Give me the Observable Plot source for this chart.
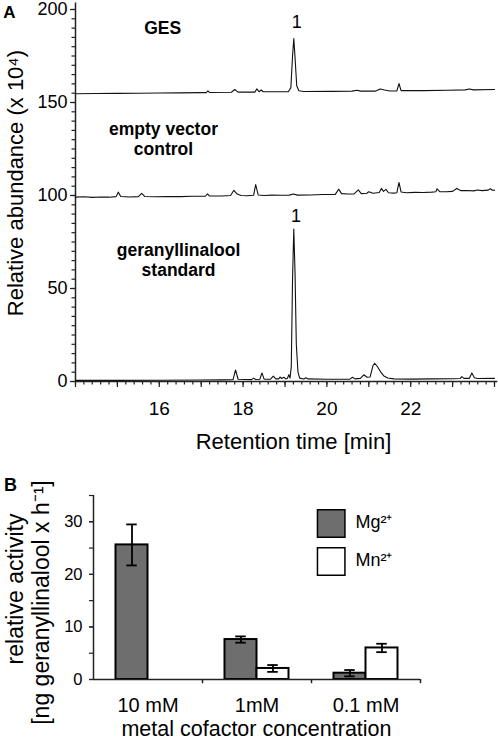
<!DOCTYPE html>
<html><head><meta charset="utf-8">
<script src="https://cdn.jsdelivr.net/npm/d3@7"></script>
<script src="https://cdn.jsdelivr.net/npm/@observablehq/plot@0.6"></script>
<style>
body{margin:0;background:#fff}
#chart{width:498px;height:742px;position:relative;background:#fff}
#chart svg{display:block}
</style>
</head><body><div id="chart"></div>
<script>
// ---------- Panel A data: chromatogram traces [retention time (min), abundance (x10^4)] ----------
const gesTrace = [
  [14.0,154.7],[14.5,154.8],[15.0,154.9],[15.5,155.0],[16.0,155.1],[16.5,155.2],[17.0,155.3],[17.12,155.3],
  [17.16,156.3],[17.2,155.4],[17.72,155.5],[17.8,157.0],[17.88,155.6],[18.28,155.6],[18.33,157.3],[18.38,155.8],
  [18.43,156.7],[18.48,155.8],[19.08,155.8],[19.14,158],[19.18,175],[19.21,184.4],[19.24,174],[19.28,159],
  [19.33,156.3],[19.45,155.9],[20.1,156.0],[20.6,156.1],[20.72,156.6],[20.8,156.1],[21.15,156.1],[21.27,157.3],
  [21.38,156.7],[21.5,156.2],[21.67,156.2],[21.72,160.2],[21.77,156.4],[22.3,156.4],[22.9,156.6],[23.3,156.8],
  [23.4,157.3],[23.5,156.8],[24.0,157.0]
];
const emptyVectorTrace = [
  [14.0,99.1],[14.2,99.3],[14.4,99.0],[14.6,99.2],[14.8,99.1],[14.97,99.4],[15.02,101.8],[15.08,99.5],[15.3,99.2],
  [15.5,99.4],[15.58,101.2],[15.65,99.5],[15.9,99.3],[16.2,99.5],[16.5,99.4],[16.8,99.6],[17.1,99.6],[17.15,100.9],
  [17.2,99.7],[17.5,99.7],[17.7,100.0],[17.78,102.8],[17.86,100.8],[17.95,100.0],[18.1,99.9],[18.25,100.1],
  [18.3,105.9],[18.36,100.3],[18.5,100.0],[18.7,100.2],[18.9,100.1],[19.1,100.2],[19.2,100.8],[19.3,100.2],
  [19.6,100.3],[19.9,100.5],[20.2,100.6],[20.28,103.4],[20.35,101.0],[20.5,100.8],[20.65,100.9],[20.75,103.0],
  [20.82,101.0],[20.95,101.2],[21.0,102.0],[21.1,101.2],[21.25,101.6],[21.3,103.8],[21.35,102.2],[21.41,103.3],
  [21.47,101.5],[21.6,101.3],[21.67,101.5],[21.72,107.0],[21.77,101.9],[21.9,101.5],[22.1,101.7],[22.3,101.6],
  [22.5,101.8],[22.6,102.0],[22.63,103.6],[22.7,102.0],[22.85,102.0],[23.0,102.2],[23.1,103.8],[23.2,102.6],
  [23.35,102.7],[23.5,102.5],[23.6,103.0],[23.7,102.6],[23.85,102.9],[23.9,103.6],[23.95,102.8],[24.0,102.9]
];
const standardTrace = [
  [14.0,0.6],[15.0,0.6],[16.0,0.7],[17.0,0.8],[17.5,0.9],[17.76,1.0],[17.82,6.2],[17.88,1.2],[18.2,1.0],
  [18.25,1.8],[18.3,1.1],[18.4,1.2],[18.45,4.6],[18.5,1.3],[18.65,1.2],[18.72,2.9],[18.78,1.4],[18.85,1.4],
  [18.88,2.4],[18.92,1.6],[18.97,2.3],[19.02,1.4],[19.06,1.8],[19.09,3.6],[19.12,1.8],[19.15,8],[19.18,55],
  [19.21,82],[19.24,58],[19.27,20],[19.31,5],[19.35,1.8],[19.45,1.3],[19.5,2.0],[19.55,1.4],[20.0,1.2],
  [20.55,1.3],[20.61,2.3],[20.67,1.4],[20.8,1.7],[20.88,3.6],[20.96,2.3],[21.03,2.4],[21.1,8.5],[21.14,9.8],
  [21.2,8.2],[21.28,5.2],[21.36,3.0],[21.45,1.9],[21.6,1.4],[22.0,1.3],[22.5,1.4],[23.0,1.5],[23.18,1.6],
  [23.22,2.6],[23.27,1.7],[23.4,1.7],[23.46,4.6],[23.52,2.0],[23.6,1.6],[24.0,1.7]
];
const sampleNames = ["GES", "empty vector\ncontrol", "geranyllinalool\nstandard"];
const peakName = "1";
const yTicksA = [0, 50, 100, 150, 200];
const xTicksA = [16, 18, 20, 22];
const yLabelA = "Relative abundance (x 10\u2074)";
const xLabelA = "Retention time [min]";

// ---------- Panel B data ----------
const concentrations = ["10 mM", "1mM", "0.1 mM"];
const mgMean = [25.6, 7.6, 1.2];
const mgErr  = [3.9, 0.6, 0.6];
const mnMean = [null, 2.1, 6.0];
const mnErr  = [null, 0.65, 0.8];
const legendLabels = ["Mg\u00B2\u207A", "Mn\u00B2\u207A"];
const yTicksB = [0, 10, 20, 30];
const yLabelB1 = "relative activity";
const yLabelB2 = "[ng geranyllinalool x h\u207B\u00B9]";
const xLabelB = "metal cofactor concentration";

const FONT = "'Liberation Sans', Arial, Helvetica, sans-serif";
const AX = "#222";

// ---------- Panel A ----------
const trace = (data) => Plot.line(data, {x: d => d[0], y: d => d[1], stroke: "#111", strokeWidth: 1.1});
const sampleLabels = [
  {label: sampleNames[0], x: 16.08, y: 190.3},
  {label: sampleNames[1], x: 16.1, y: 130.6},
  {label: sampleNames[2], x: 16.46, y: 65.6}
];
const peakLabels = [{x: 19.28, y: 193}, {x: 19.26, y: 88.7}];

const plotA = Plot.plot({
  width: 498, height: 455,
  marginLeft: 75, marginRight: 4, marginTop: 9, marginBottom: 74,
  style: {fontFamily: FONT, background: "white", color: "#000", overflow: "visible"},
  x: {domain: [14, 24], label: null},
  y: {domain: [0, 200], label: null},
  marks: [
    Plot.axisY({ticks: d3.range(0, 201, 5), tickSize: 3.5, tickFormat: () => "", label: null, stroke: AX, strokeWidth: 1.2}),
    Plot.axisY({ticks: yTicksA, tickSize: 5, tickPadding: 3, fontSize: 18, label: null, stroke: AX, strokeWidth: 1.2}),
    Plot.axisX({ticks: d3.range(14, 24.001, 0.2), tickSize: 3.5, tickFormat: () => "", label: null, stroke: AX, strokeWidth: 1.2}),
    Plot.axisX({ticks: d3.range(14, 24.5, 1), tickSize: 6, tickFormat: () => "", label: null, stroke: AX, strokeWidth: 1.2}),
    Plot.axisX({ticks: xTicksA, tickSize: 0, tickPadding: 20, fontSize: 19, label: null}),
    Plot.ruleX([14], {y1: 0, y2: 203.5, stroke: AX, strokeWidth: 1.5}),
    Plot.ruleY([0], {x1: 14, x2: 24.08, stroke: AX, strokeWidth: 1.5}),
    trace(gesTrace),
    trace(emptyVectorTrace),
    trace(standardTrace),
    Plot.text(sampleLabels, {x: "x", y: "y", text: "label", fontWeight: "bold", fontSize: 17.5, lineHeight: 1.15}),
    Plot.text(peakLabels, {x: "x", y: "y", text: () => peakName, fontSize: 18}),
    Plot.text(["A"], {frameAnchor: "top-left", text: d => d, dx: -66, dy: 3.5, fontWeight: "bold", fontSize: 17, textAnchor: "middle", lineAnchor: "middle"}),
    Plot.text([yLabelA], {frameAnchor: "left", text: d => d, dx: -59.5, dy: -12.5, rotate: -90, fontSize: 22, textAnchor: "middle", lineAnchor: "middle"}),
    Plot.text([xLabelA], {frameAnchor: "bottom", text: d => d, dx: 8.5, dy: 60, fontSize: 22, lineAnchor: "middle"})
  ]
});

// ---------- Panel B ----------
const WB = 498, MLB = 93, MRB = 78;
const bw = (WB - MLB - MRB) / concentrations.length; // band width
const barW = 32, capW = 10.5;
const mgRows = concentrations.map((c, i) => ({conc: c, value: mgMean[i], err: mgErr[i]}));
const mnRows = concentrations.map((c, i) => ({conc: c, value: mnMean[i], err: mnErr[i]})).filter(d => d.value != null);
const half = bw / 2;
const errMarks = (rows, side) => {
  const cx = side * barW / 2;
  const inL = half + cx - capW / 2, inR = half - cx - capW / 2;
  return [
    Plot.ruleX(rows, {x: "conc", y1: d => d.value - d.err, y2: d => d.value + d.err, dx: cx, stroke: "#000", strokeWidth: 1.8}),
    Plot.tickY(rows, {x: "conc", y: d => d.value + d.err, insetLeft: inL, insetRight: inR, stroke: "#000", strokeWidth: 1.8}),
    Plot.tickY(rows, {x: "conc", y: d => d.value - d.err, insetLeft: inL, insetRight: inR, stroke: "#000", strokeWidth: 1.8})
  ];
};
const plotB = Plot.plot({
  width: WB, height: 287,
  marginLeft: MLB, marginRight: MRB, marginTop: 40, marginBottom: 63,
  style: {fontFamily: FONT, background: "white", color: "#000", overflow: "visible"},
  x: {domain: concentrations, padding: 0, label: null},
  y: {domain: [0, 35], label: null},
  marks: [
    Plot.axisY({ticks: d3.range(0, 36, 5), tickSize: 4, tickFormat: () => "", label: null, stroke: AX, strokeWidth: 1.2}),
    Plot.axisY({ticks: yTicksB, tickSize: 4, tickPadding: 7, fontSize: 16.5, label: null, stroke: AX, strokeWidth: 1.2}),
    Plot.axisX({tickSize: 0, tickPadding: 18, fontSize: 20, label: null}),
    Plot.barY(mgRows, {x: "conc", y: "value", fill: "#6e6e6e", stroke: "#000", strokeWidth: 2, insetLeft: half - barW, insetRight: half}),
    Plot.barY(mnRows, {x: "conc", y: "value", fill: "#fff", stroke: "#000", strokeWidth: 2, insetLeft: half, insetRight: half - barW}),
    ...errMarks(mgRows, -1),
    ...errMarks(mnRows, 1),
    Plot.ruleY([0], {stroke: AX, strokeWidth: 1.5}),
    Plot.ruleX([concentrations[0]], {dx: -half, y1: 0, y2: 35, stroke: AX, strokeWidth: 1.5}),
    Plot.ruleX(concentrations, {dx: half, y1: 0, y2: -0.8, stroke: AX, strokeWidth: 1.5}),
    Plot.dot([legendLabels[0]], {frameAnchor: "top-right", dx: -89.3, dy: 27.9, symbol: "square", r: 15.5, fill: "#6e6e6e", stroke: "#000", strokeWidth: 1.5}),
    Plot.dot([legendLabels[1]], {frameAnchor: "top-right", dx: -89.3, dy: 66, symbol: "square", r: 15.5, fill: "#fff", stroke: "#000", strokeWidth: 1.5}),
    Plot.text([legendLabels[0]], {frameAnchor: "top-right", text: d => d, dx: -65, dy: 27, textAnchor: "start", lineAnchor: "middle", fontSize: 18}),
    Plot.text([legendLabels[1]], {frameAnchor: "top-right", text: d => d, dx: -65, dy: 65, textAnchor: "start", lineAnchor: "middle", fontSize: 18}),
    Plot.text(["B"], {frameAnchor: "top-left", text: d => d, dx: -83, dy: -10, fontWeight: "bold", fontSize: 18, textAnchor: "middle", lineAnchor: "middle"}),
    Plot.text([yLabelB1], {frameAnchor: "left", text: d => d, dx: -78, dy: 1.5, rotate: -90, fontSize: 23, textAnchor: "middle", lineAnchor: "middle"}),
    Plot.text([yLabelB2], {frameAnchor: "left", text: d => d, dx: -52, dy: 15, rotate: -90, fontSize: 23, textAnchor: "middle", lineAnchor: "middle"}),
    Plot.text([xLabelB], {frameAnchor: "bottom", text: d => d, dx: -0.5, dy: 50, fontSize: 21.5, lineAnchor: "middle"})
  ]
});

const chart = document.getElementById("chart");
chart.appendChild(plotA);
chart.appendChild(plotB);
</script>
</body></html>
